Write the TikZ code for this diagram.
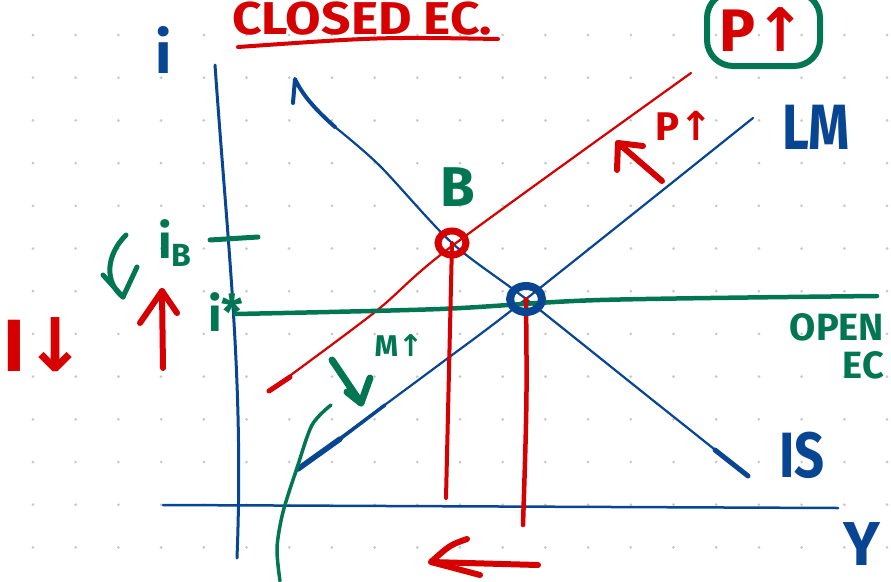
\documentclass[tikz,border=0pt]{standalone}
\usepackage{fontspec}
\setmainfont{Fira Sans}
\newfontfamily\arr{DejaVu Sans}
\definecolor{pblue}{RGB}{8,70,148}
\definecolor{pred}{RGB}{214,0,0}
\definecolor{pgreen}{RGB}{0,118,82}
\definecolor{dotgray}{RGB}{200,200,200}
\tikzset{
  pen/.style={line cap=round, line join=round},
  bl/.style={pen, draw=pblue},
  rd/.style={pen, draw=pred},
  gr/.style={pen, draw=pgreen},
  lab/.style={inner sep=0pt, outer sep=0pt, font=\bfseries},
  fs/.style={font=\fontsize{#1}{#1}\selectfont\bfseries}
}
\begin{document}
\begin{tikzpicture}[x=1pt,y=-1pt]
\useasboundingbox (0,0) rectangle (891,581);
% dot grid
\foreach \i in {0,...,20}{
  \foreach \j in {0,...,12}{
    \fill[dotgray] ({33+42.7*\i},{35+42.7*\j}) circle (1.5);
  }
}

% key points
\coordinate (B) at (452,243);
\coordinate (E) at (526,299);

% axes
\coordinate (ytop) at (215,65);
\coordinate (ybot) at (237,558);
\draw[bl, line width=3] (ytop) .. controls (228,250) and (244,380) .. (ybot);
\coordinate (xl) at (163,505);
\coordinate (xr) at (838,508);
\draw[bl, line width=2.5] (xl) -- (xr);

% IS curve
\draw[bl, line width=4] (293,103) -- (295,79) .. controls (303,96) and (316,110) .. (335,127);
\draw[bl, line width=2.2] plot[smooth] coordinates {(335,127) (380,166) (452,243) (526,299) (640,390) (748,476)};
\draw[bl, line width=5] (715,450) -- (748,476);

% LM curve
\draw[bl, line width=2.2] plot[smooth] coordinates {(298,469) (440,364) (526,299) (753,118)};
\draw[bl, line width=5.5] (298,469) -- (340,439);
\draw[bl, line width=3.5] (340,439) -- (385,405);

% LM' (red)
\draw[rd, line width=2.2] plot[smooth] coordinates {(269,391) (375,312) (452,246) (691,73)};
\draw[rd, line width=5] (269,391) -- (290,377);

% i* horizontal (green)
\draw[gr, line width=4.5] plot[smooth] coordinates {(235,314) (440,309) (600,300) (877,296)};

% verticals to Y
\coordinate (Bd) at (446,498);
\coordinate (Ed) at (523,525);
\draw[rd, line width=4] (B) -- (Bd);
\draw[rd, line width=4.5] (E) .. controls (527,400) .. (Ed);

% equilibrium circles
\draw[pred, line width=7] (B) ellipse [x radius=14, y radius=12];
\draw[pblue, line width=8] (E) ellipse [x radius=16, y radius=13];

% bottom red arrow (left)
\coordinate (la) at (538,565);
\coordinate (lb) at (431,562);
\draw[rd, line width=6] (la) -- (lb);
\draw[rd, line width=6] (467,539) .. controls (450,545) .. (lb) -- (480,575);

% green curve
\draw[gr, line width=3.5] plot[smooth] coordinates {(331,405) (312,425) (297,468) (283,512) (277,548) (280,581)};

% green arrow down + M
\coordinate (ga) at (332,360);
\coordinate (gb) at (361,403);
\draw[gr, line width=7] (ga) -- (gb);
\draw[gr, line width=7] (347,392) -- (gb) -- (370,378);
\node[lab, text=pgreen, fs=30] (m) at (399,346) {M{\arr ↑}};

% arrow + P
\coordinate (qa) at (662,181);
\coordinate (qb) at (618,143);
\draw[rd, line width=6] (qa) -- (qb);
\draw[rd, line width=6] (617,170) -- (qb) -- (643,146);
\node[lab, text=pred, fs=40] (p1) at (684,126) {P{\arr ↑}};

% left red up arrow
\coordinate (ua) at (163,368);
\coordinate (ub) at (162,291);
\draw[rd, line width=6] (ua) -- (ub);
\draw[rd, line width=6] (140,323) -- (ub) -- (177,313);

% green curved arrow
\coordinate (ca) at (126,235);
\coordinate (cb) at (123,297);
\draw[gr, line width=5] (ca) .. controls (106,255) and (104,282) .. (cb);
\draw[gr, line width=5] (103,275) -- (cb) -- (137,267);

% i_B tick
\coordinate (ta) at (210,240);
\coordinate (tb) at (258,237);
\draw[gr, line width=5] (ta) -- (tb);

% texts
\node[lab, text=pred, fs=46, xscale=1.12, anchor=base west] (title) at (232,34) {CLOSED EC.};
\draw[rd, line width=4] (238,47) .. controls (380,37) .. (498,39);

\node[lab, text=pblue, fs=58] (iax) at (164,50) {i};
\node[lab, text=pblue, fs=64, xscale=0.82] (lm) at (816,127) {LM};
\node[lab, text=pblue, fs=64, xscale=0.82] (is) at (802,455) {IS};
\node[lab, text=pblue, fs=62] (y) at (862,544) {Y};
\node[lab, text=pgreen, fs=56] (b) at (458,187) {B};
\node[lab, text=pgreen, fs=38, align=right, anchor=north east] (open) at (884,314) {OPEN\\[0pt]EC};
\node[lab, text=pgreen, fs=48] (ib) at (175,243) {i\raisebox{-8pt}{\fontsize{32}{32}\selectfont B}};
\node[lab, text=pgreen, fs=48] (istar) at (226,312) {i\raisebox{2pt}{*}};
\node[lab, text=pred, fs=74] (iL) at (45,345) {I{\arr ↓}};

% boxed P
\node[lab, text=pred, fs=60] (p2) at (763,30) {P{\arr ↑}};
\draw[gr, line width=6, rounded corners=26] (707,-8) rectangle (820,66);
\end{tikzpicture}
\end{document}
